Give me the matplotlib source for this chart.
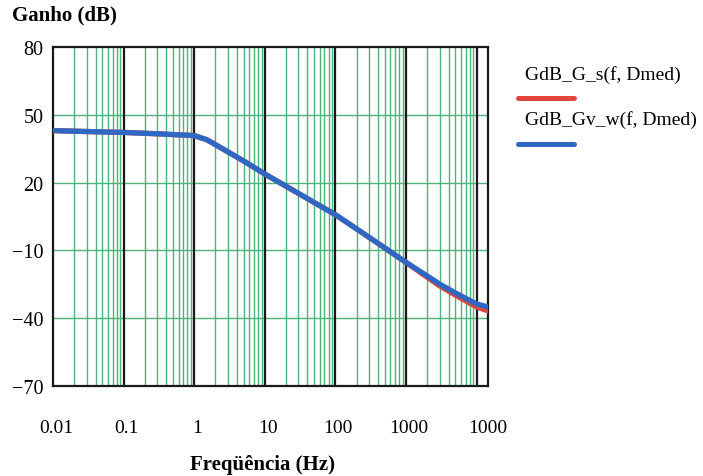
import numpy as np
import matplotlib
matplotlib.use("Agg")
import matplotlib.pyplot as plt

# Data
freq = [0.01, 0.03, 0.1, 0.3, 1, 1.5, 2, 3, 5, 10, 20, 30, 50, 100, 200, 300, 500,
        1000, 2000, 3000, 5000, 10000, 14500]
gdb_gv_w = [43.0, 42.6, 42.2, 41.6, 40.8, 39.0, 36.8, 33.6, 29.6, 23.8, 18.4, 15.2, 11.2,
            5.8, -0.5, -4.2, -8.9, -15.3, -21.3, -24.9, -28.8, -33.7, -35.0]
gdb_g_s = [43.0, 42.6, 42.2, 41.6, 40.8, 39.0, 36.8, 33.6, 29.6, 23.8, 18.4, 15.2, 11.2,
           5.8, -0.5, -4.2, -8.9, -15.3, -21.9, -25.7, -29.8, -35.0, -36.8]

x_tick_labels = ["0.01", "0.1", "1", "10", "100", "1000", "1000"]
y_ticks = [80, 50, 20, -10, -40, -70]
decades = [0.01, 0.1, 1, 10, 100, 1000, 10000]
x_limits = (0.01, 14500)
series_labels = ["GdB_G_s(f, Dmed)", "GdB_Gv_w(f, Dmed)"]

RED = "#e0463c"
BLUE = "#2f68c4"
GREEN = "#4cb37c"
SERIF = ["Liberation Serif", "DejaVu Serif"]

fig = plt.figure(figsize=(7.03, 4.77), dpi=100)
ax = fig.add_axes([53 / 703, (477 - 387) / 477, 435 / 703, 339 / 477])
ax.set_xscale("log")
ax.set_xlim(*x_limits)
ax.set_ylim(-70, 80)

# grid: minor (green) and decade (black) vertical lines, green horizontals
for d in decades:
    for m in range(2, 10):
        v = d * m
        if v < x_limits[1]:
            ax.axvline(v, color=GREEN, lw=1.0, zorder=1)
    if d > x_limits[0]:
        ax.axvline(d, color="#1a1a1a", lw=1.6, zorder=1.5)
for yv in y_ticks[1:-1]:
    ax.axhline(yv, color=GREEN, lw=1.0, zorder=1)

ax.plot(freq, gdb_g_s, color=RED, lw=3.8, zorder=3, solid_capstyle="round",
        solid_joinstyle="round")
ax.plot(freq, gdb_gv_w, color=BLUE, lw=3.8, zorder=4, solid_capstyle="round",
        solid_joinstyle="round")

for s in ax.spines.values():
    s.set_linewidth(1.6)
    s.set_color("#1a1a1a")

# tick labels
ax.set_yticks(y_ticks)
ax.set_yticklabels([f"{v:d}".replace("-", "\u2212") for v in y_ticks],
                   fontfamily=SERIF, fontsize=14.5)
label_pos = [d * 10 ** (3 / 70.6) for d in decades[:-1]] + [x_limits[1]]
ax.set_xticks(label_pos)
ax.set_xticklabels(x_tick_labels, fontfamily=SERIF, fontsize=14)
ax.xaxis.set_minor_locator(matplotlib.ticker.NullLocator())
ax.tick_params(axis="x", length=0, pad=24)
ax.tick_params(axis="y", length=0, pad=7)

fig.text(12 / 703, 1 - 15 / 477, "Ganho (dB)", fontfamily=SERIF, fontsize=15,
         fontweight="bold", ha="left", va="center")
fig.text(263 / 703, 1 - 465 / 477, "Freqüência (Hz)", fontfamily=SERIF, fontsize=15,
         fontweight="bold", ha="center", va="center")

# legend drawn by hand to mimic Mathcad layout
for i, (lab, col) in enumerate(zip(series_labels, [RED, BLUE])):
    ty = 1 - (75 + i * 45) / 477
    ly = 1 - (99 + i * 46) / 477
    fig.text(525 / 703, ty, lab, fontfamily=SERIF, fontsize=14, ha="left", va="center")
    fig.add_artist(matplotlib.lines.Line2D([518 / 703, 574 / 703], [ly, ly],
                                           color=col, lw=3.6, solid_capstyle="round",
                                           transform=fig.transFigure))

fig.savefig("out.png", dpi=100)
